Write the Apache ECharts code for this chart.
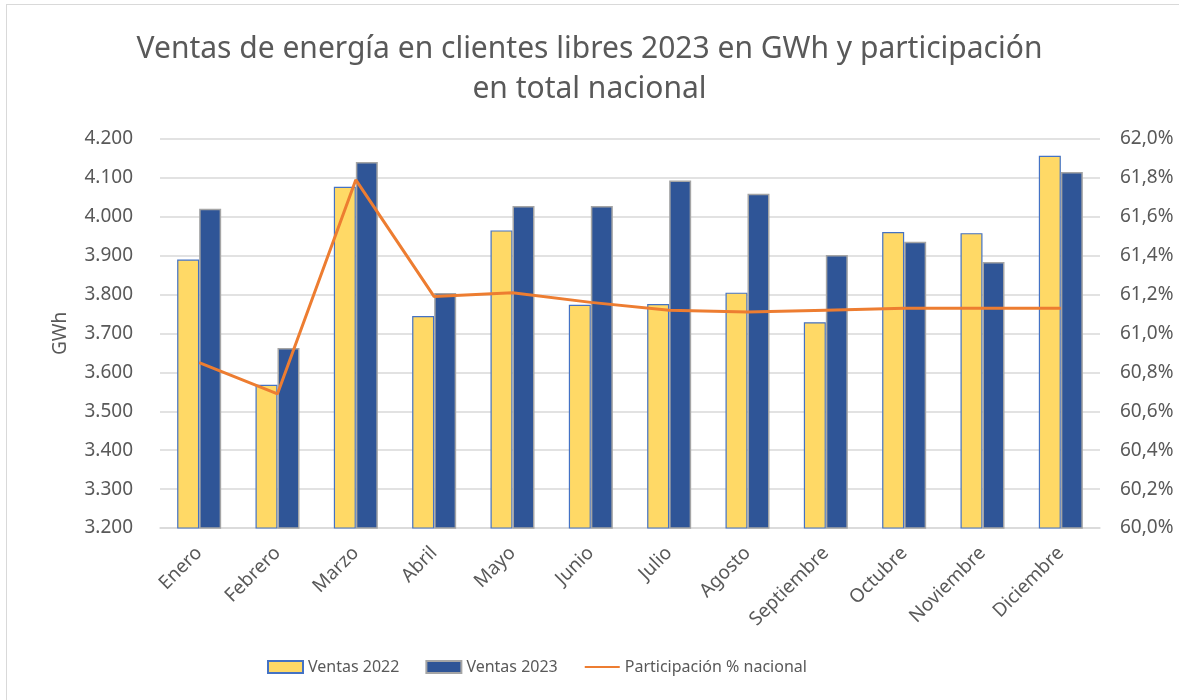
<!DOCTYPE html>
<html>
<head>
    <meta charset="utf-8">
    <title>Ventas de energía</title>
    <script src="https://cdn.jsdelivr.net/npm/echarts@6/dist/echarts.min.js"></script>
    <style>
        body { margin: 0; background: #fff; }
        #frame { position: absolute; left: 6px; top: 4px; width: 1180px; height: 700px; border: 1px solid #d9d9d9; box-sizing: border-box; }
        #demo { position: absolute; left: 0; top: 0; width: 1179px; height: 700px; }
    </style>
</head>

<body>
    <div id="frame"></div>
    <div id="demo"></div>
    <script type="text/javascript">
        var meses = ['Enero', 'Febrero', 'Marzo', 'Abril', 'Mayo', 'Junio', 'Julio', 'Agosto', 'Septiembre', 'Octubre', 'Noviembre', 'Diciembre'];
        var ventas2022 = [3890, 3568, 4077, 3745, 3965, 3774, 3776, 3805, 3729, 3961, 3958, 4157];
        var ventas2023 = [4021, 3663, 4141, 3804, 4028, 4028, 4093, 4059, 3902, 3936, 3884, 4115];
        // participación % nacional
        var participacion = [60.85, 60.69, 61.79, 61.19, 61.21, 61.16, 61.12, 61.11, 61.12, 61.13, 61.13, 61.13];

        var gris = '#595959';
        var fuente = 'Noto Sans';

        var chart = echarts.init(document.getElementById('demo'));

        var option = {
            backgroundColor: 'transparent',
            textStyle: { fontFamily: fuente },
            title: {
                text: 'Ventas de energía en clientes libres 2023 en GWh y participación\nen total nacional',
                left: 'center',
                top: 24,
                textStyle: { color: gris, fontSize: 30, fontWeight: 'normal', lineHeight: 40, fontFamily: fuente }
            },
            legend: {
                bottom: 20,
                left: 262,
                itemWidth: 35,
                itemHeight: 12,
                itemGap: 26,
                textStyle: { color: gris, fontSize: 16, fontFamily: fuente },
                data: [
                    { name: 'Ventas 2022', icon: 'rect' },
                    { name: 'Ventas 2023', icon: 'rect' },
                    { name: 'Participación % nacional', itemStyle: { opacity: 0 } }
                ]
            },
            grid: { left: 160, right: 79, top: 139, bottom: 172 },
            xAxis: {
                type: 'category',
                data: meses,
                axisLine: { lineStyle: { color: '#d9d9d9', width: 1.5 } },
                axisTick: { show: false },
                axisLabel: {
                    interval: 0,
                    rotate: 45,
                    color: gris,
                    fontSize: 19,
                    margin: 22
                }
            },
            yAxis: [
                {
                    type: 'value',
                    name: 'GWh',
                    nameLocation: 'middle',
                    nameGap: 90,
                    nameTextStyle: { color: gris, fontSize: 19 },
                    min: 3200,
                    max: 4200,
                    interval: 100,
                    axisLine: { show: false },
                    axisTick: { show: false },
                    splitLine: { lineStyle: { color: '#d9d9d9', width: 1.5 } },
                    axisLabel: {
                        color: gris,
                        fontSize: 19,
                        margin: 27,
                        formatter: function (v) {
                            return String(v).replace(/\B(?=(\d{3})+$)/, '.');
                        }
                    }
                },
                {
                    type: 'value',
                    min: 60,
                    max: 62,
                    interval: 0.2,
                    axisLine: { show: false },
                    axisTick: { show: false },
                    splitLine: { show: false },
                    axisLabel: {
                        color: gris,
                        fontSize: 19,
                        margin: 20,
                        formatter: function (v) {
                            return v.toFixed(1).replace('.', ',') + '%';
                        }
                    }
                }
            ],
            series: [
                {
                    name: 'Ventas 2022',
                    type: 'bar',
                    data: ventas2022,
                    barWidth: 22,
                    barGap: '0%',
                    itemStyle: { color: '#FFD966', borderColor: '#4472C4', borderWidth: 1.2 }
                },
                {
                    name: 'Ventas 2023',
                    type: 'bar',
                    data: ventas2023,
                    barWidth: 22,
                    barGap: '0%',
                    itemStyle: { color: '#2F5597', borderColor: '#A5A5A5', borderWidth: 1.5 }
                },
                {
                    name: 'Participación % nacional',
                    type: 'line',
                    yAxisIndex: 1,
                    data: participacion,
                    symbol: 'none',
                    lineStyle: { color: '#ED7D31', width: 3 },
                    itemStyle: { color: '#ED7D31' }
                }
            ]
        };

        chart.setOption(option);
    </script>
</body>
</html>
